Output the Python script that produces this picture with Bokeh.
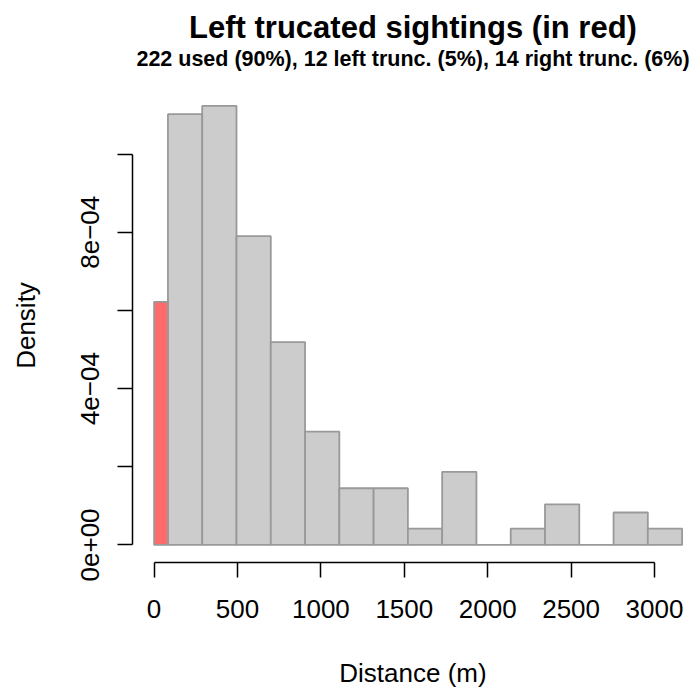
from bokeh.plotting import figure
from bokeh.models import Range1d, FixedTicker, Title, ColumnDataSource
from bokeh.embed import file_html
from bokeh.resources import INLINE

# ---- data ----
red_left = [0]
red_right = [83]
red_density = [6.22e-4]

bin_edges = [83, 288.5, 494, 699.5, 905, 1110.5, 1316, 1521.5, 1727,
             1932.5, 2138, 2343.5, 2549, 2754.5, 2960, 3165.5]
densities = [1.102e-3, 1.123e-3, 7.90e-4, 5.19e-4, 2.90e-4, 1.45e-4,
             1.45e-4, 4.2e-5, 1.87e-4, 0.0, 4.2e-5, 1.04e-4, 0.0, 8.3e-5, 4.2e-5]

x_ticks = [0, 500, 1000, 1500, 2000, 2500, 3000]
y_ticks = [0, 2e-4, 4e-4, 6e-4, 8e-4, 1e-3]
y_tick_labels = {0: "0e+00", 2e-4: "", 4e-4: "4e\u221204", 6e-4: "",
                 8e-4: "8e\u221204", 1e-3: ""}

title_text = "Left trucated sightings (in red)"
subtitle_text = "222 used (90%), 12 left trunc. (5%), 14 right trunc. (6%)"
x_label = "Distance (m)"
y_label = "Density"

FONT = "Liberation Sans"

p = figure(width=693, height=694, output_backend="svg", toolbar_location=None,
           x_range=Range1d(-129.5, 3233.8), y_range=Range1d(-4.49e-5, 1.1677e-3),
           min_border_left=132, min_border_right=0, min_border_top=88,
           min_border_bottom=132, title=None)
p.outline_line_color = None
p.xgrid.visible = False
p.ygrid.visible = False
p.background_fill_color = "white"
p.border_fill_color = "white"

grey = ColumnDataSource(dict(left=bin_edges[:-1], right=bin_edges[1:],
                             top=densities, bottom=[0] * len(densities)))
red = ColumnDataSource(dict(left=red_left, right=red_right, top=red_density,
                            bottom=[0]))
p.quad(left="left", right="right", top="top", bottom="bottom", source=grey,
       fill_color="#CCCCCC", line_color="#999999", line_width=1.8)
p.quad(left="left", right="right", top="top", bottom="bottom", source=red,
       fill_color="#FF6A6A", line_color="#999999", line_width=1.8)

# axes
xa = p.xaxis[0]
xa.ticker = FixedTicker(ticks=x_ticks, minor_ticks=[])
xa.bounds = (0, 3000)
xa.axis_label = x_label
ya = p.yaxis[0]
ya.ticker = FixedTicker(ticks=y_ticks, minor_ticks=[])
ya.bounds = (0, 1e-3)
ya.major_label_overrides = y_tick_labels
ya.major_label_orientation = "vertical"
ya.axis_label = y_label

for ax in (xa, ya):
    ax.axis_line_color = "black"
    ax.axis_line_width = 1.5
    ax.major_tick_line_color = "black"
    ax.major_tick_line_width = 1.5
    ax.major_tick_out = 15
    ax.major_tick_in = 0
    ax.minor_tick_out = 0
    ax.minor_tick_in = 0
    ax.major_label_text_font = FONT
    ax.major_label_text_font_size = "26px"
    ax.major_label_text_color = "black"
    ax.axis_label_text_font = FONT
    ax.axis_label_text_font_size = "26px"
    ax.axis_label_text_font_style = "normal"
    ax.axis_label_text_color = "black"

xa.major_label_standoff = 22
xa.axis_label_standoff = 37
ya.major_label_standoff = 18
ya.axis_label_standoff = 38

sub = Title(text=subtitle_text, align="center", text_font=FONT,
            text_font_size="21.5px", text_font_style="bold", standoff=35,
            offset=4, text_color="black")
main = Title(text=title_text, align="center", text_font=FONT,
             text_font_size="31px", text_font_style="bold", standoff=-35,
             offset=4, text_color="black")
p.add_layout(sub, "above")
p.add_layout(main, "above")

open("out.html", "w").write(file_html(p, INLINE))
